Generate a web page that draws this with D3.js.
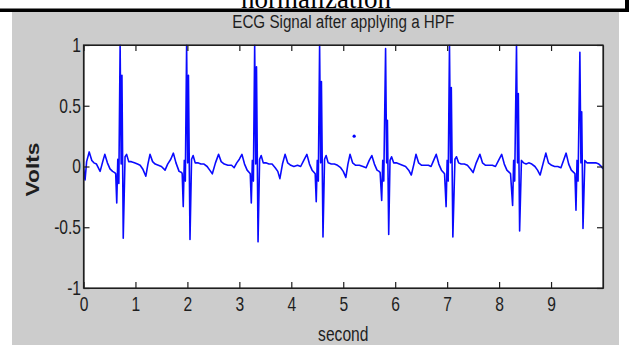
<!DOCTYPE html>
<html>
<head>
<meta charset="utf-8">
<script src="https://cdn.jsdelivr.net/npm/d3@7"></script>
<style>
  html, body { margin: 0; padding: 0; background: #ffffff; }
  svg { display: block; }
  text { font-family: "Liberation Sans", Arial, Helvetica, sans-serif; }
</style>
</head>
<body>
<svg id="chart" width="629" height="345"></svg>
<script>
// ---------------- data ----------------
const titleText = "ECG Signal after applying a HPF";
const captionText = "normalization";
const xLabel = "second";
const yLabel = "Volts";
const xTicks = [0, 1, 2, 3, 4, 5, 6, 7, 8, 9];
const yTicks = [-1, -0.5, 0, 0.5, 1];
const yTickLabels = ["-1", "-0.5", "0", "0.5", "1"];
const xDomain = [0, 10];
const yDomain = [-1, 1];

// ECG samples [second, volts]
const ecg = [
  [0.00,-0.01],[0.03,-0.11],[0.06,0.04],[0.11,0.12],[0.16,0.05],[0.20,0.03],[0.25,0.02],[0.32,-0.04],[0.37,0.04],[0.41,0.10],[0.46,0.03],[0.51,-0.02],[0.56,-0.04],[0.60,-0.05],
  [0.62,-0.06],[0.64,-0.30],[0.66,0.06],[0.68,-0.14],[0.705,1.00],[0.725,0.02],[0.74,0.75],[0.765,-0.59],[0.80,0.08],[0.83,0.10],
  [0.87,0.04],[0.92,0.04],[0.98,0.03],[1.04,0.02],[1.09,0.01],[1.14,-0.02],[1.20,-0.08],[1.24,0.02],[1.28,0.10],[1.33,0.04],[1.38,0.02],[1.44,0.01],[1.50,0.00],[1.57,-0.03],[1.62,0.02],[1.68,0.06],[1.73,0.11],[1.78,0.03],[1.84,-0.04],[1.89,-0.05],
  [1.90,-0.06],[1.92,-0.33],[1.94,0.05],[1.96,-0.12],[1.985,1.00],[2.005,0.03],[2.02,0.75],[2.05,-0.60],[2.08,0.06],[2.11,0.09],
  [2.15,0.03],[2.20,0.03],[2.26,0.02],[2.32,0.02],[2.38,0.00],[2.43,-0.03],[2.48,-0.06],[2.54,0.03],[2.60,0.10],[2.65,0.04],[2.71,0.02],[2.78,0.01],[2.85,0.01],[2.90,-0.01],[2.95,0.03],[3.00,0.06],[3.05,0.10],[3.10,0.02],[3.15,-0.03],[3.19,-0.05],
  [3.21,-0.06],[3.23,-0.30],[3.25,0.05],[3.27,-0.12],[3.295,1.00],[3.315,0.02],[3.33,0.82],[3.36,-0.62],[3.39,0.06],[3.42,0.09],
  [3.46,0.03],[3.51,0.03],[3.57,0.02],[3.63,0.02],[3.69,-0.01],[3.74,-0.04],[3.78,-0.10],[3.83,0.02],[3.88,0.10],[3.93,0.03],[3.99,0.01],[4.05,0.00],[4.12,0.01],[4.18,0.00],[4.24,0.05],[4.30,0.10],[4.35,0.02],[4.40,-0.03],[4.44,-0.05],
  [4.46,-0.06],[4.48,-0.29],[4.50,0.05],[4.52,-0.12],[4.545,1.00],[4.565,0.03],[4.58,0.70],[4.61,-0.58],[4.64,0.06],[4.67,0.09],
  [4.71,0.03],[4.77,0.02],[4.83,0.02],[4.89,0.01],[4.95,-0.01],[5.00,-0.04],[5.05,-0.09],[5.09,0.02],[5.13,0.10],[5.18,0.03],[5.24,0.01],[5.31,0.01],[5.38,0.00],[5.44,-0.01],[5.50,0.05],[5.55,0.09],[5.60,0.02],[5.65,-0.03],[5.69,-0.04],
  [5.71,-0.05],[5.74,-0.28],[5.76,0.05],[5.78,-0.12],[5.815,0.97],[5.835,0.03],[5.85,0.38],[5.875,-0.56],[5.90,0.05],[5.93,0.08],
  [5.97,0.03],[6.02,0.03],[6.08,0.02],[6.14,0.01],[6.20,0.00],[6.26,-0.03],[6.31,-0.07],[6.36,0.02],[6.40,0.10],[6.45,0.03],[6.51,0.01],[6.58,0.01],[6.64,0.01],[6.69,0.00],[6.74,0.05],[6.79,0.10],[6.84,0.02],[6.89,-0.03],[6.93,-0.05],
  [6.95,-0.06],[6.98,-0.33],[7.00,0.05],[7.02,-0.12],[7.045,1.00],[7.065,0.03],[7.08,0.65],[7.11,-0.58],[7.15,0.06],[7.18,0.08],
  [7.22,0.03],[7.27,0.02],[7.33,0.02],[7.39,0.01],[7.45,-0.02],[7.50,-0.05],[7.56,0.03],[7.63,0.10],[7.68,0.03],[7.74,0.01],[7.80,0.01],[7.87,0.01],[7.93,0.00],[7.99,0.05],[8.05,0.10],[8.10,0.02],[8.15,-0.03],[8.20,-0.05],
  [8.22,-0.06],[8.26,-0.32],[8.28,0.05],[8.30,-0.12],[8.335,1.00],[8.355,0.03],[8.37,0.60],[8.395,-0.53],[8.43,0.05],[8.47,0.03],
  [8.52,0.02],[8.57,0.03],[8.63,0.02],[8.69,0.00],[8.74,-0.03],[8.79,-0.07],[8.85,0.03],[8.90,0.11],[8.95,0.03],[9.01,0.01],[9.07,0.00],[9.13,0.00],[9.19,-0.01],[9.24,0.05],[9.29,0.11],[9.34,0.02],[9.39,-0.03],[9.44,-0.05],
  [9.46,-0.06],[9.48,-0.36],[9.50,0.05],[9.52,-0.12],[9.555,0.94],[9.575,0.03],[9.59,0.45],[9.615,-0.51],[9.65,0.05],[9.69,0.03],
  [9.74,0.03],[9.80,0.03],[9.86,0.03],[9.92,0.02],[9.97,0.00],[10.0,-0.02]
];
const strayPoint = [5.21, 0.25];

// ---------------- drawing ----------------
const W = 629, H = 345;
const plot = { left: 83.5, right: 603, top: 45, bottom: 288 };
const svg = d3.select("#chart");
const ink = "#1e1e1e";
const condense = 0.78;

// page background pieces
svg.append("rect").attr("x", 0).attr("y", 0).attr("width", W).attr("height", H).attr("fill", "#ffffff");
svg.append("rect").attr("x", 12).attr("y", 12).attr("width", 607).attr("height", H - 12).attr("fill", "#cccccc");
svg.append("rect").attr("x", 0).attr("y", 8.5).attr("width", W).attr("height", 3.5).attr("fill", "#000000");
svg.append("rect").attr("x", 625).attr("y", 0).attr("width", 4).attr("height", 12).attr("fill", "#000000");

// cut-off caption from the document above
svg.append("text")
  .attr("x", 316).attr("y", 7.5)
  .attr("text-anchor", "middle")
  .style("font-family", "'Liberation Serif', 'Times New Roman', serif")
  .style("font-size", "27px")
  .attr("fill", "#000")
  .text(captionText);

const x = d3.scaleLinear().domain(xDomain).range([plot.left, plot.right]);
const y = d3.scaleLinear().domain(yDomain).range([plot.bottom, plot.top]);

// plot area
svg.append("rect")
  .attr("x", plot.left).attr("y", plot.top)
  .attr("width", plot.right - plot.left).attr("height", plot.bottom - plot.top)
  .attr("fill", "#ffffff");

// clip
svg.append("clipPath").attr("id", "clip")
  .append("rect")
  .attr("x", plot.left).attr("y", plot.top - 0.5)
  .attr("width", plot.right - plot.left).attr("height", plot.bottom - plot.top + 1);

// signal
const line = d3.line().x(d => x(d[0])).y(d => y(d[1]));
svg.append("path")
  .datum(ecg)
  .attr("clip-path", "url(#clip)")
  .attr("d", line)
  .attr("fill", "none")
  .attr("stroke", "#0a0aff")
  .attr("stroke-width", 1.6)
  .attr("stroke-linejoin", "round");

svg.append("circle")
  .attr("cx", x(strayPoint[0])).attr("cy", y(strayPoint[1]))
  .attr("r", 1.6).attr("fill", "#0000ff");

// axes
function styleAxis(g) {
  g.selectAll("path, line").attr("stroke", ink).attr("stroke-width", 1.2);
  g.selectAll("text").attr("fill", ink).style("font-size", "20px")
    .style("font-family", "'Liberation Sans', Arial, sans-serif");
}

const gx = svg.append("g")
  .attr("transform", `translate(0,${plot.bottom})`)
  .call(d3.axisBottom(x).tickValues(xTicks).tickFormat(d3.format("d"))
        .tickSizeInner(-6).tickSizeOuter(0).tickPadding(9));
styleAxis(gx);
gx.selectAll("text").attr("transform", `scale(${condense},1)`);

const gy = svg.append("g")
  .attr("transform", `translate(${plot.left},0)`)
  .call(d3.axisLeft(y).tickValues(yTicks).tickFormat((d, i) => yTickLabels[i])
        .tickSizeInner(-6).tickSizeOuter(0).tickPadding(3));
styleAxis(gy);
gy.selectAll("text").attr("x", 0).attr("transform", `translate(-2.5,0) scale(${condense},1)`);

const gt = svg.append("g")
  .attr("transform", `translate(0,${plot.top})`)
  .call(d3.axisTop(x).tickValues(xTicks).tickFormat("").tickSizeInner(-6).tickSizeOuter(0));
styleAxis(gt);

const gr = svg.append("g")
  .attr("transform", `translate(${plot.right},0)`)
  .call(d3.axisRight(y).tickValues(yTicks).tickFormat("").tickSizeInner(-6).tickSizeOuter(0));
styleAxis(gr);

// box
svg.append("rect")
  .attr("x", plot.left).attr("y", plot.top)
  .attr("width", plot.right - plot.left).attr("height", plot.bottom - plot.top)
  .attr("fill", "none").attr("stroke", ink).attr("stroke-width", 1.2);

// title
const cx = (plot.left + plot.right) / 2;
svg.append("text")
  .attr("transform", `translate(${cx},28) scale(0.8,1)`)
  .attr("text-anchor", "middle")
  .style("font-size", "19px")
  .attr("fill", ink)
  .text(titleText);

// x label
svg.append("text")
  .attr("transform", `translate(${cx},341) scale(${condense},1)`)
  .attr("text-anchor", "middle")
  .style("font-size", "20px")
  .attr("fill", ink)
  .text(xLabel);

// y label
svg.append("text")
  .attr("transform", `translate(39,${(plot.top + plot.bottom) / 2 + 3}) rotate(-90) scale(1.2,1)`)
  .attr("text-anchor", "middle")
  .style("font-size", "19px")
  .style("font-weight", "600")
  .attr("fill", ink)
  .text(yLabel);
</script>
</body>
</html>
